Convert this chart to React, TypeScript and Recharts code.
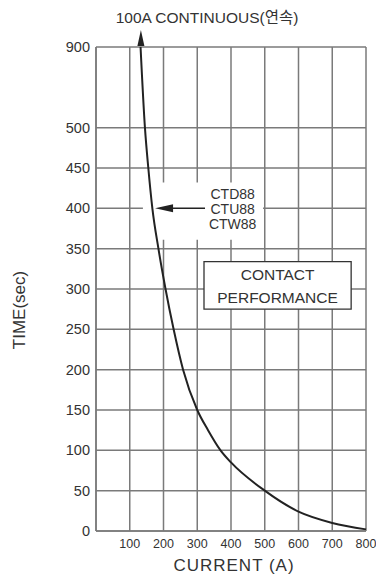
import React from "react";
import {
  LineChart,
  Line,
  XAxis,
  YAxis,
  CartesianGrid,
  ReferenceArea,
  ReferenceLine,
  ReferenceDot,
} from "recharts";

// curve: current (A) -> time (sec)
const currents = [132, 145, 155, 167, 185, 206, 230, 258, 300, 332, 369, 400, 500, 600, 700, 800];
const times = [900, 500, 450, 400, 350, 300, 250, 200, 150, 125, 100, 85, 50, 24, 10, 2];

const xTicks = [0, 100, 200, 300, 400, 500, 600, 700, 800];
const yTickValues = [0, 50, 100, 150, 200, 250, 300, 350, 400, 450, 500, 900];

const FONT = '"Liberation Sans", Arial, "Noto Sans CJK KR", sans-serif';
const INK = "#333";
const GRID = "#7a7a7a";

// the axis is broken above 500: 500..900 is squeezed into two steps
const squeeze = (v: number) => (v <= 500 ? v : 500 + (v - 500) / 4);
const unsqueeze = (v: number) => (v <= 500 ? v : 500 + (v - 500) * 4);

const data = currents.map((c, i) => ({ current: c, time: squeeze(times[i]) }));

const upArrow = (p: any) => (
  <polygon
    points={`${p.cx},${p.cy} ${p.cx - 3.5},${p.cy + 16} ${p.cx + 3.5},${p.cy + 16}`}
    fill="#222"
  />
);

const leftArrow = (p: any) => (
  <polygon
    points={`${p.cx},${p.cy} ${p.cx + 18},${p.cy - 4} ${p.cx + 18},${p.cy + 4}`}
    fill="#222"
  />
);

const modelLabel = (p: any) => (
  <g fontFamily={FONT} fontSize={14} fill={INK} textAnchor="middle">
    <text x={p.cx} y={p.cy - 9}>CTD88</text>
    <text x={p.cx} y={p.cy + 6}>CTU88</text>
    <text x={p.cx} y={p.cy + 21}>CTW88</text>
  </g>
);

const boxLabel = (p: any) => (
  <g fontFamily={FONT} fontSize={15.5} fill={INK} textAnchor="middle">
    <text x={p.cx} y={p.cy - 6}>CONTACT</text>
    <text x={p.cx} y={p.cy + 17}>PERFORMANCE</text>
  </g>
);

export default function App() {
  return (
    <div style={{ position: "absolute", left: 0, top: 0, width: 376, height: 575, background: "#fff" }}>
      <div
        style={{
          position: "absolute",
          left: 0,
          width: 414,
          top: 5,
          textAlign: "center",
          fontFamily: FONT,
          fontSize: 15.5,
          color: INK,
          whiteSpace: "nowrap",
        }}
      >
        100A CONTINUOUS(연속)
      </div>
      <div
        style={{
          position: "absolute",
          left: 20,
          top: 310,
          transform: "translate(-50%, -50%) rotate(-90deg)",
          fontFamily: FONT,
          fontSize: 17,
          color: INK,
          whiteSpace: "nowrap",
        }}
      >
        TIME(sec)
      </div>
      <div
        style={{
          position: "absolute",
          left: 234,
          top: 566,
          transform: "translate(-50%, -50%)",
          fontFamily: FONT,
          fontSize: 17,
          letterSpacing: 1,
          color: INK,
          whiteSpace: "nowrap",
        }}
      >
        CURRENT (A)
      </div>
      <LineChart
        width={376}
        height={575}
        data={data}
        margin={{ top: 47, right: 10, bottom: 14, left: 36 }}
        style={{ position: "absolute", left: 0, top: 0 }}
      >
        <CartesianGrid stroke={GRID} strokeWidth={1.5} />
        <XAxis
          dataKey="current"
          type="number"
          domain={[0, 800]}
          ticks={xTicks}
          height={30}
          tickSize={0}
          tickMargin={8}
          axisLine={{ stroke: GRID, strokeWidth: 1.5 }}
          tickFormatter={(v: number) => (v === 0 ? "" : String(v))}
          tick={{ fontFamily: FONT, fontSize: 12.5, fill: INK }}
          interval={0}
        />
        <YAxis
          type="number"
          domain={[0, 600]}
          ticks={yTickValues.map(squeeze)}
          width={60}
          tickSize={0}
          tickMargin={6}
          axisLine={{ stroke: GRID, strokeWidth: 1.5 }}
          tickFormatter={(v: number) => String(unsqueeze(v))}
          tick={{ fontFamily: FONT, fontSize: 14.5, fill: INK }}
          interval={0}
        />
        <ReferenceArea x1={139} x2={495} y1={361} y2={432} fill="#fff" fillOpacity={1} stroke="none" />
        <ReferenceArea
          x1={320}
          x2={756}
          y1={275}
          y2={334}
          fill="#fff"
          fillOpacity={1}
          stroke="#333"
          strokeWidth={1.3}
        />
        <ReferenceDot x={538} y={304} r={0} shape={boxLabel} ifOverflow="visible" />
        <ReferenceDot x={405} y={400} r={0} shape={modelLabel} ifOverflow="visible" />
        <ReferenceLine
          segment={[
            { x: 190, y: 400 },
            { x: 323, y: 400 },
          ]}
          stroke="#222"
          strokeWidth={1.5}
          ifOverflow="visible"
        />
        <ReferenceDot x={175} y={400} r={0} shape={leftArrow} ifOverflow="visible" />
        <ReferenceDot x={133} y={621} r={0} shape={upArrow} ifOverflow="visible" />
        <Line
          dataKey="time"
          type="monotone"
          stroke="#222"
          strokeWidth={2}
          dot={false}
          isAnimationActive={false}
        />
      </LineChart>
    </div>
  );
}
